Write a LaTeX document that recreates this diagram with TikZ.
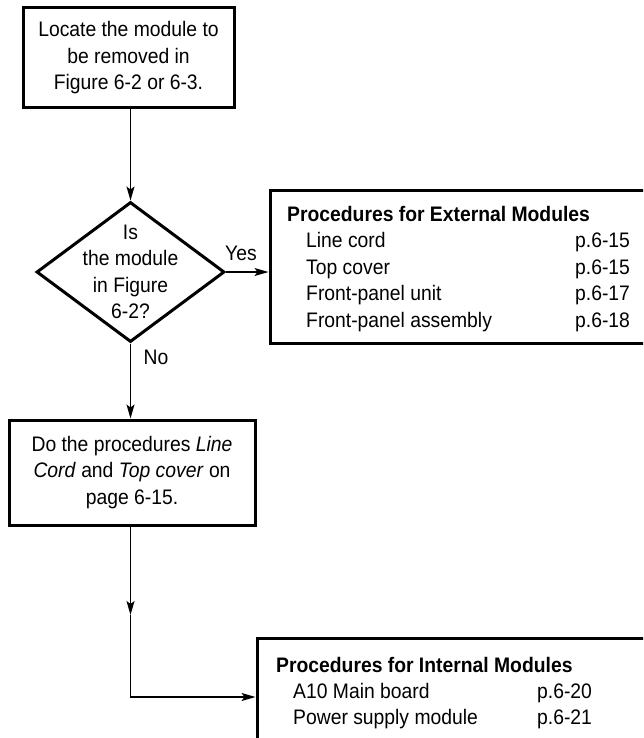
\documentclass[tikz,border=0pt]{standalone}
\usepackage{fontspec}
\setmainfont{Liberation Sans}[FakeStretch=0.92]
\usetikzlibrary{arrows.meta, shapes.geometric}

\begin{document}
\begin{tikzpicture}[x=1pt, y=-1pt, font=\fontsize{21}{26.5}\selectfont,
    box/.style={draw, rectangle, line width=3pt, inner sep=0pt},
    txt/.style={anchor=base west, inner sep=0pt},
    arr/.style={-{Stealth[length=14pt, width=8pt, inset=3pt]}, line width=1.2pt}]
    \useasboundingbox (0,0) rectangle (643,738);
    \clip (0,0) rectangle (643,738);
    % 流程框
    \node[box, minimum width=211, minimum height=100, align=center] (locate) at (128.5,58) {Locate the module to\\be removed in\\Figure 6-2 or 6-3.};
    \node[draw, diamond, line width=3pt, minimum width=188, minimum height=140, inner sep=0pt] (query) at (130.5,272) {};
    \node[align=center] (qtext) at (query) {Is\\the module\\in Figure\\6-2?};
    \node[box, minimum width=246, minimum height=105, align=center] (doproc) at (132,472.5) {Do the procedures \textit{Line}\\\textit{Cord} and \textit{Top cover} on\\page 6-15.};
    % 右侧清单框(右边和下边超出画面)
    \node[box, minimum width=430, minimum height=153] (extbox) at (485,266.5) {};
    \node[box, minimum width=443, minimum height=142] (intbox) at (478.5,709) {};
    \node[txt] (exthead) at (287,221) {\textbf{Procedures for External Modules}};
    \foreach \name/\pg [count=\i] in {Line cord/p.6-15, Top cover/p.6-15, Front-panel unit/p.6-17, Front-panel assembly/p.6-18} {
        \node[txt] (ext\i) at (306,221.5+\i*26.4) {\name};
        \node[txt] (extp\i) at (575,221.5+\i*26.4) {\pg};
    }
    \node[txt] (inthead) at (276,672) {\textbf{Procedures for Internal Modules}};
    \foreach \name/\pg [count=\i] in {A10 Main board/p.6-20, Power supply module/p.6-21} {
        \node[txt] (int\i) at (293,671.5+\i*26.6) {\name};
        \node[txt] (intp\i) at (537,671.5+\i*26.6) {\pg};
    }
    % 连线
    \draw[arr] (locate.south -| query) -- (query.north);
    \draw[arr] (query.east) -- (extbox.west |- query.east);
    \node (yes) at (241,253) {Yes};
    \draw[arr] (query.south) -- (doproc.north -| query.south);
    \node (no) at (156,357) {No};
    \coordinate (midarr) at (130.5,615);
    \coordinate (bend) at (130.5,697);
    \draw[arr] (doproc.south -| query.south) -- (midarr);
    \draw[arr] (midarr) -- (bend) -- (bend -| intbox.west);
\end{tikzpicture}
\end{document}
